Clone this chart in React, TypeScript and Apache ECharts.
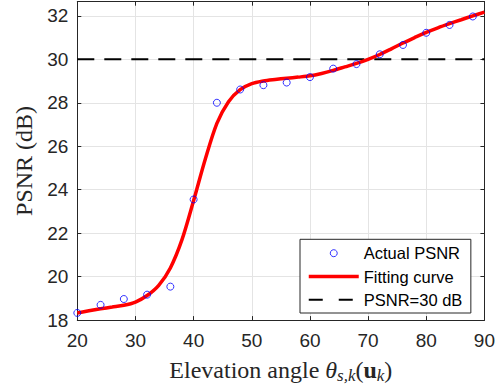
import React, { useEffect, useRef } from "react";
import * as echarts from "echarts";

// Measured PSNR samples (elevation angle in degrees, PSNR in dB)
const actualAngles = [20, 24, 28, 32, 36, 40, 44, 48, 52, 56, 60, 64, 68, 72, 76, 80, 84, 88];
const actualPsnr = [18.33, 18.7, 18.97, 19.17, 19.54, 23.55, 28.0, 28.61, 28.81, 28.93, 29.18, 29.57, 29.78, 30.23, 30.66, 31.22, 31.58, 31.97];

// Fitting curve
const fitAngles = [20, 22, 24, 26, 28, 30, 32, 34, 36, 38, 40, 42, 44, 46, 48, 50, 52, 54, 56, 58, 60, 62, 64, 66, 68, 70, 72, 74, 76, 78, 80, 82, 84, 86, 88, 90];
const fitPsnr = [18.33, 18.43, 18.52, 18.6, 18.68, 18.83, 19.13, 19.6, 20.4, 21.7, 23.5, 25.4, 27.05, 28.05, 28.6, 28.88, 29.0, 29.07, 29.13, 29.18, 29.24, 29.35, 29.49, 29.65, 29.81, 30.0, 30.22, 30.48, 30.75, 31.0, 31.24, 31.45, 31.64, 31.82, 32.0, 32.17];

// Threshold line
const thresholdAngles = [20, 90];
const thresholdValue = 30;

const xTicks = { min: 20, max: 90, interval: 10 };
const yTicks = { min: 18, max: 32.65, interval: 2 };

const seriesNames = ["Actual PSNR", "Fitting curve", "PSNR=30 dB"];

export default function App() {
  const ref = useRef<HTMLDivElement>(null);

  useEffect(() => {
    if (!ref.current) return;
    const chart = echarts.init(ref.current, null, { renderer: "svg" });
    const axisColor = "#262626";
    const gridColor = "#e4e4e4";
    const tickFont = { fontFamily: "Liberation Sans, Arial, sans-serif", fontSize: 19, color: axisColor };
    const serif = "Liberation Serif, Times New Roman, serif";

    const option: any = {
      animation: false,
      backgroundColor: "#ffffff",
      grid: { left: 77.3, right: 12.7, top: 1.7, bottom: 65.7, containLabel: false },
      xAxis: [
        {
          type: "value",
          position: "bottom",
          min: xTicks.min,
          max: xTicks.max,
          interval: xTicks.interval,
          axisLine: { show: true, onZero: false, lineStyle: { color: axisColor, width: 1 } },
          axisTick: { show: true, inside: true, length: 4, lineStyle: { color: axisColor } },
          axisLabel: { ...tickFont, margin: 11 },
          splitLine: { show: true, lineStyle: { color: gridColor, width: 1 } },
          name: "{r|Elevation angle }{i|θ}{sub|s,k}{r|(}{b|u}{sub|k}{r|)}",
          nameLocation: "middle",
          nameGap: 31,
          nameTextStyle: {
            color: axisColor,
            rich: {
              r: { fontFamily: serif, fontSize: 24, lineHeight: 30, color: axisColor },
              i: { fontFamily: serif, fontSize: 24, fontStyle: "italic", lineHeight: 30, color: axisColor },
              b: { fontFamily: serif, fontSize: 24, fontWeight: "bold", lineHeight: 30, color: axisColor },
              sub: { fontFamily: serif, fontSize: 17, fontStyle: "italic", lineHeight: 17, padding: [12, 0, 0, 0], color: axisColor },
            },
          },
        },
        {
          type: "value",
          position: "top",
          min: xTicks.min,
          max: xTicks.max,
          interval: xTicks.interval,
          axisLine: { show: true, onZero: false, lineStyle: { color: axisColor, width: 1 } },
          axisTick: { show: true, inside: true, length: 4, lineStyle: { color: axisColor } },
          axisLabel: { show: false },
          splitLine: { show: false },
        },
      ],
      yAxis: [
        {
          type: "value",
          position: "left",
          min: yTicks.min,
          max: yTicks.max,
          interval: yTicks.interval,
          axisLine: { show: true, onZero: false, lineStyle: { color: axisColor, width: 1 } },
          axisTick: { show: true, inside: true, length: 4, lineStyle: { color: axisColor } },
          axisLabel: { ...tickFont, margin: 9, showMaxLabel: false },
          splitLine: { show: true, lineStyle: { color: gridColor, width: 1 } },
          name: "PSNR (dB)",
          nameLocation: "middle",
          nameGap: 41,
          nameRotate: 90,
          nameTextStyle: { fontFamily: serif, fontSize: 24, color: axisColor },
        },
        {
          type: "value",
          position: "right",
          min: yTicks.min,
          max: yTicks.max,
          interval: yTicks.interval,
          axisLine: { show: true, onZero: false, lineStyle: { color: axisColor, width: 1 } },
          axisTick: { show: true, inside: true, length: 4, lineStyle: { color: axisColor } },
          axisLabel: { show: false },
          splitLine: { show: false },
        },
      ],
      legend: {
        orient: "vertical",
        left: 300,
        top: 239.3,
        padding: [5.4, 8.5, 4.7, 7],
        itemGap: 6.3,
        itemWidth: 50,
        itemHeight: 7,
        backgroundColor: "#ffffff",
        borderColor: "#262626",
        borderWidth: 1,
        borderRadius: 0,
        textStyle: { fontFamily: "Liberation Sans, Arial, sans-serif", fontSize: 16.5, lineHeight: 16, color: "#000000" },
        data: [
          {
            name: seriesNames[0],
            icon: "circle",
            itemStyle: { color: "transparent", borderColor: "#0000ff", borderWidth: 1 },
          },
          {
            name: seriesNames[1],
            itemStyle: { opacity: 0 },
            lineStyle: { width: 3.5, color: "#ff0000" },
          },
          {
            name: seriesNames[2],
            itemStyle: { opacity: 0 },
            lineStyle: { width: 2, color: "#000000", type: [14, 16] },
          },
        ],
      },
      series: [
        {
          name: seriesNames[2],
          type: "line",
          xAxisIndex: 0,
          yAxisIndex: 0,
          data: thresholdAngles.map((x) => [x, thresholdValue]),
          symbol: "none",
          itemStyle: { color: "#000000" },
          lineStyle: { color: "#000000", width: 2, type: [17, 10] },
          z: 2,
        },
        {
          name: seriesNames[1],
          type: "line",
          xAxisIndex: 0,
          yAxisIndex: 0,
          data: fitAngles.map((x, i) => [x, fitPsnr[i]]),
          symbol: "none",
          smooth: 0.3,
          itemStyle: { color: "#ff0000" },
          lineStyle: { color: "#ff0000", width: 3.5 },
          z: 3,
        },
        {
          name: seriesNames[0],
          type: "scatter",
          xAxisIndex: 0,
          yAxisIndex: 0,
          data: actualAngles.map((x, i) => [x, actualPsnr[i]]),
          symbol: "circle",
          symbolSize: 7,
          itemStyle: { color: "transparent", borderColor: "#0000ff", borderWidth: 1 },
          z: 4,
        },
      ],
    };
    chart.setOption(option);
    return () => chart.dispose();
  }, []);

  return (
    <div
      ref={ref}
      style={{ position: "absolute", left: 0, top: 0, width: 498, height: 389, background: "#fff" }}
    />
  );
}
